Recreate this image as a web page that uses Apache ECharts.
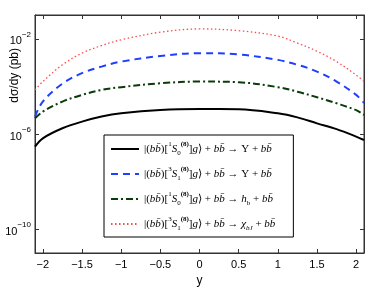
<!DOCTYPE html>
<html>
<head>
<meta charset="utf-8">
<script src="https://cdn.jsdelivr.net/npm/echarts@6/dist/echarts.min.js"></script>
<style>html,body{margin:0;padding:0;background:#fff}#c{width:374px;height:294px}</style>
</head>
<body>
<div id="c"></div>
<script>
// ---- data ----
const xVals = [-2.1, -2, -1.75, -1.5, -1.25, -1, -0.5, 0, 0.5, 1, 1.25, 1.5, 1.75, 2, 2.1];
const ups1S0 = [2.95e-7, 6.6e-7, 1.74e-6, 3.3e-6, 5.4e-6, 7.4e-6, 1.02e-5, 1.12e-5, 1.1e-5, 7.4e-6, 5.0e-6, 2.8e-6, 1.6e-6, 7.8e-7, 5.6e-7];
const ups3S1 = [5.4e-6, 2.3e-5, 1.3e-4, 3.6e-4, 6.8e-4, 1.1e-3, 1.9e-3, 2.5e-3, 2.2e-3, 1.3e-3, 8.1e-4, 4.2e-4, 1.6e-4, 4.4e-5, 2.0e-5];
const hb1S0 = [4.6e-6, 8.7e-6, 2.3e-5, 4.4e-5, 7.1e-5, 9.3e-5, 1.35e-4, 1.6e-4, 1.5e-4, 9.3e-5, 6.0e-5, 3.5e-5, 1.95e-5, 1.0e-5, 6.3e-6];
const chi3S1 = [7.1e-5, 1.6e-4, 8.1e-4, 2.5e-3, 5.2e-3, 9.1e-3, 1.9e-2, 2.6e-2, 2.2e-2, 1.3e-2, 6.6e-3, 3.0e-3, 1.1e-3, 3.0e-4, 1.6e-4];
const xTicks = [-2, -1.5, -1, -0.5, 0, 0.5, 1, 1.5, 2];
const yTicks = [1e-10, 1e-6, 1e-2];
const seriesNames = [
  '|(bb̄)[¹S₀⁽⁸⁾]g⟩ + bb̄ → Υ + bb̄',
  '|(bb̄)[³S₁⁽⁸⁾]g⟩ + bb̄ → Υ + bb̄',
  '|(bb̄)[¹S₀⁽⁸⁾]g⟩ + bb̄ → h_b + bb̄',
  '|(bb̄)[³S₁⁽⁸⁾]g⟩ + bb̄ → χ_bJ + bb̄'
];
const legendRich = [
  '{r||(}{m|bb̄}{r|)[}{sup|1}{m|S}{sub|0}{supb|(8)}{r|]}{m|g}{r|⟩ + }{m|bb̄}{r| → Υ + }{m|bb̄}',
  '{r||(}{m|bb̄}{r|)[}{sup|3}{m|S}{sub|1}{supb|(8)}{r|]}{m|g}{r|⟩ + }{m|bb̄}{r| → Υ + }{m|bb̄}',
  '{r||(}{m|bb̄}{r|)[}{sup|1}{m|S}{sub|0}{supb|(8)}{r|]}{m|g}{r|⟩ + }{m|bb̄}{r| → }{m|h}{sub|b}{r| + }{m|bb̄}',
  '{r||(}{m|bb̄}{r|)[}{sup|3}{m|S}{sub|1}{supb|(8)}{r|]}{m|g}{r|⟩ + }{m|bb̄}{r| → }{m|χ}{subm|bJ}{r| + }{m|bb̄}'
];
const yTitle = 'dσ/dy (pb)';
const xTitle = 'y';

const chart = echarts.init(document.getElementById('c'), null, {renderer: 'canvas'});
const pair = arr => xVals.map((x, i) => [x, arr[i]]);
const serif = 'Liberation Serif';
const sans = 'Liberation Sans';
const axisCol = '#333';

const mkSeries = (name, data, color, width, type) => ({
  name, type: 'line', data: pair(data), symbol: 'none', smooth: 0.35,
  lineStyle: {color, width, type}, itemStyle: {color}, z: 3
});

const option = {
  animation: false,
  grid: {left: 35, right: 10, top: 15, bottom: 41, show: true, borderColor: axisCol, borderWidth: 1},
  xAxis: [{
    type: 'value', min: -2.1, max: 2.1, position: 'bottom',
    name: xTitle, nameLocation: 'middle', nameGap: 22,
    nameTextStyle: {fontFamily: sans, fontSize: 12, color: '#000'},
    axisLine: {show: true, onZero: false, lineStyle: {color: axisCol}},
    axisTick: {show: true, inside: true, length: 4, customValues: xTicks, lineStyle: {color: axisCol}},
    axisLabel: {customValues: xTicks, fontFamily: sans, fontSize: 11, color: '#000', margin: 6,
      formatter: v => String(v).replace('-', '−')},
    splitLine: {show: false}
  }, {
    type: 'value', min: -2.1, max: 2.1, position: 'top',
    axisLine: {show: true, onZero: false, lineStyle: {color: axisCol}},
    axisTick: {show: true, inside: true, length: 4, customValues: xTicks, lineStyle: {color: axisCol}},
    axisLabel: {show: false}, splitLine: {show: false}
  }],
  yAxis: [{
    type: 'log', min: 1e-11, max: 1e-1, position: 'left',
    axisLine: {show: true, onZero: false, lineStyle: {color: axisCol}},
    axisTick: {show: true, inside: true, length: 4, customValues: yTicks, lineStyle: {color: axisCol}},
    axisLabel: {customValues: yTicks, margin: 4, color: '#000',
      formatter: v => '{b|10}{s|' + String(Math.round(Math.log10(v))).replace('-', '−') + '}',
      rich: {b: {fontFamily: sans, fontSize: 11, color: '#000', lineHeight: 16, verticalAlign: 'bottom'},
             s: {fontFamily: sans, fontSize: 8, color: '#000', lineHeight: 16, verticalAlign: 'top'}}},
    splitLine: {show: false}
  }, {
    type: 'log', min: 1e-11, max: 1e-1, position: 'right',
    axisLine: {show: true, onZero: false, lineStyle: {color: axisCol}},
    axisTick: {show: true, inside: true, length: 4, customValues: yTicks, lineStyle: {color: axisCol}},
    axisLabel: {show: false}, splitLine: {show: false}
  }],
  legend: {
    show: true, orient: 'vertical', left: 104, top: 135,
    data: seriesNames,
    itemWidth: 28, itemHeight: 14, itemGap: 9,
    padding: [6, 18, 5, 6],
    borderColor: '#000', borderWidth: 1, backgroundColor: '#fff',
    itemStyle: {opacity: 0},
    formatter: name => legendRich[seriesNames.indexOf(name)],
    textStyle: {
      color: '#000', fontFamily: serif, fontSize: 11,
      rich: {
        r: {fontFamily: serif, fontSize: 11, lineHeight: 16, color: '#000'},
        m: {fontFamily: serif, fontStyle: 'italic', fontSize: 11, lineHeight: 16, color: '#000'},
        sup: {fontFamily: serif, fontSize: 7, lineHeight: 16, verticalAlign: 'top', color: '#000'},
        supb: {fontFamily: serif, fontSize: 7, fontWeight: 'bold', lineHeight: 16, verticalAlign: 'top', color: '#000'},
        sub: {fontFamily: serif, fontSize: 7, lineHeight: 16, verticalAlign: 'bottom', color: '#000'},
        subm: {fontFamily: serif, fontStyle: 'italic', fontSize: 7, lineHeight: 16, verticalAlign: 'bottom', color: '#000'}
      }
    }
  },
  graphic: [{
    type: 'text', left: 9, top: 48, rotation: Math.PI / 2,
    style: {text: yTitle, fontFamily: sans, fontSize: 12, fill: '#000'}
  }],
  series: [
    mkSeries(seriesNames[0], ups1S0, '#000000', 2, 'solid'),
    mkSeries(seriesNames[1], ups3S1, '#1f3fff', 2, [7, 5]),
    mkSeries(seriesNames[2], hb1S0, '#0b3a0b', 2, [7, 3, 2, 3]),
    mkSeries(seriesNames[3], chi3S1, '#ff4a4a', 1.3, [1.5, 2.5])
  ]
};
chart.setOption(option);
</script>
</body>
</html>
